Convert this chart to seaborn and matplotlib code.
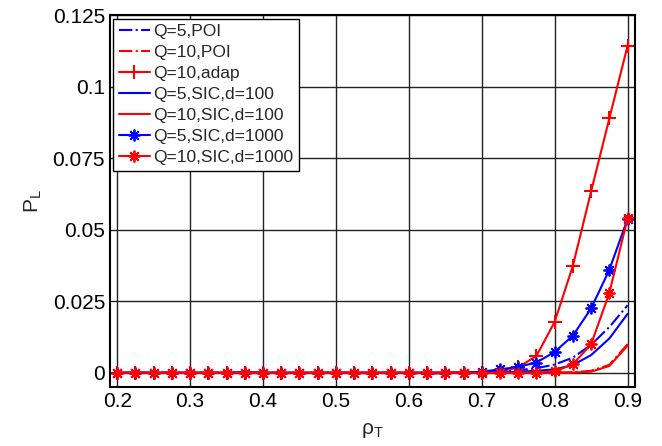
import matplotlib
matplotlib.use("Agg")
import matplotlib.pyplot as plt
import seaborn as sns

# rho_T values (x axis)
rho = [0.2, 0.225, 0.25, 0.275, 0.3, 0.325, 0.35, 0.375, 0.4, 0.425,
       0.45, 0.475, 0.5, 0.525, 0.55, 0.575, 0.6, 0.625, 0.65, 0.675,
       0.7, 0.725, 0.75, 0.775, 0.8, 0.825, 0.85, 0.875, 0.9]

q5_poi = [0, 0, 0, 0, 0, 0, 0, 0.0003, 0, 0,
          -0.0002, 0, 0, 0, -0.0002, 0, 0, -0.0004, 0, 0,
          0.0003, 0.0005, 0.0009, 0.0016, 0.0029, 0.0053, 0.0098, 0.0160, 0.0236]
q10_poi = [0, 0, 0, 0, 0, 0, 0, 0, 0, 0,
           0, 0, 0, 0, 0, 0, 0, 0, 0, 0,
           0, 0, 0, 0, 0.0001, 0.0002, 0.0007, 0.0028, 0.0100]
q10_adap = [0, 0, 0, 0, 0, 0, 0, 0, 0, 0,
            0, 0, 0, 0, 0, 0, 0, 0, 0, 0,
            0.0001, 0.0005, 0.0019, 0.0059, 0.0178, 0.0374, 0.0634, 0.0889, 0.1143]
q5_sic100 = [0, 0, 0, 0, 0, 0, 0, 0, 0, 0,
             0, 0, 0, 0, 0, 0, 0, 0, 0, 0,
             0.0001, 0.0002, 0.0004, 0.0007, 0.0012, 0.0027, 0.0062, 0.0120, 0.0206]
q10_sic100 = [0, 0, 0, 0, 0, 0, 0, 0, 0, 0,
              0, 0, 0, 0, 0, 0, 0, 0, 0, 0,
              0, 0, 0, 0, 0, 0.0001, 0.0004, 0.0024, 0.0095]
q5_sic1000 = [0, 0, 0, 0, 0, 0, 0, 0, 0, 0,
              0, 0, 0, 0, 0, 0, 0, 0, 0, 0.0001,
              0.0004, 0.0012, 0.0021, 0.0036, 0.0073, 0.0130, 0.0225, 0.0360, 0.0538]
q10_sic1000 = [0, 0, 0, 0, 0, 0, 0, 0, 0, 0,
               0, 0, 0, 0, 0, 0, 0, 0, 0, 0,
               0, 0, 0, 0.0001, 0.0005, 0.0030, 0.0100, 0.0279, 0.0540]

series = [
    ("Q=5,POI", q5_poi, "#0000ff", "-.", None),
    ("Q=10,POI", q10_poi, "#ff0000", "-.", None),
    ("Q=10,adap", q10_adap, "#ff0000", "-", "+"),
    ("Q=5,SIC,d=100", q5_sic100, "#0000ff", "-", None),
    ("Q=10,SIC,d=100", q10_sic100, "#ff0000", "-", None),
    ("Q=5,SIC,d=1000", q5_sic1000, "#0000ff", "-", "*"),
    ("Q=10,SIC,d=1000", q10_sic1000, "#ff0000", "-", "*"),
]

xticks = [0.2, 0.3, 0.4, 0.5, 0.6, 0.7, 0.8, 0.9]
yticks = [0, 0.025, 0.05, 0.075, 0.1, 0.125]
ytick_labels = ["0", "0.025", "0.05", "0.075", "0.1", "0.125"]

sns.set_style("white")
plt.rcParams['font.family'] = ['Liberation Sans', 'DejaVu Sans']
plt.rcParams['mathtext.fontset'] = 'custom'
plt.rcParams['mathtext.rm'] = 'Liberation Sans'
plt.rcParams['mathtext.it'] = 'Liberation Sans'

fig = plt.figure(figsize=(6.62, 4.46), dpi=100)
ax = fig.add_axes([0.166, 0.132, 0.793, 0.834])

for label, vals, color, ls, marker in series:
    kw = {}
    if marker == "+":
        kw = dict(marker="+", markersize=10, markeredgewidth=1.5)
    elif marker == "*":
        # matlab style asterisk: plus and cross overlaid
        kw = dict(marker=(8, 2, 0), markersize=8.5, markeredgewidth=1.3)
    sns.lineplot(x=rho, y=vals, ax=ax, color=color, linestyle=ls,
                 linewidth=1.5, label=label, **kw)
    if kw:
        ax.lines[-1].set_markeredgecolor(color)

ax.set_xlim(0.19, 0.91)
ax.set_ylim(-0.005, 0.125)
ax.set_xticks(xticks)
ax.set_xticklabels([f"{t:g}" for t in xticks])
ax.set_yticks(yticks)
ax.set_yticklabels(ytick_labels)
ax.tick_params(labelsize=15, direction='in', length=5, width=1, colors='black')
ax.grid(True, color='#222222', linewidth=1, linestyle='-')
for sp in ax.spines.values():
    sp.set_color('black')
    sp.set_linewidth(1.5)

ax.set_xlabel(r'$\mathregular{\rho_T}$', fontsize=15, labelpad=7)
ax.set_ylabel(r'$\mathregular{P_L}$', fontsize=15, labelpad=6)

leg = ax.legend(loc='upper left', fontsize=12.5, frameon=True, fancybox=False,
                framealpha=1, edgecolor='black', handlelength=1.8,
                handletextpad=0.2, borderpad=0.3, labelspacing=0.34,
                borderaxespad=0.2)
leg.get_frame().set_linewidth(1)

fig.savefig("out.png", dpi=100)
plt.close(fig)
